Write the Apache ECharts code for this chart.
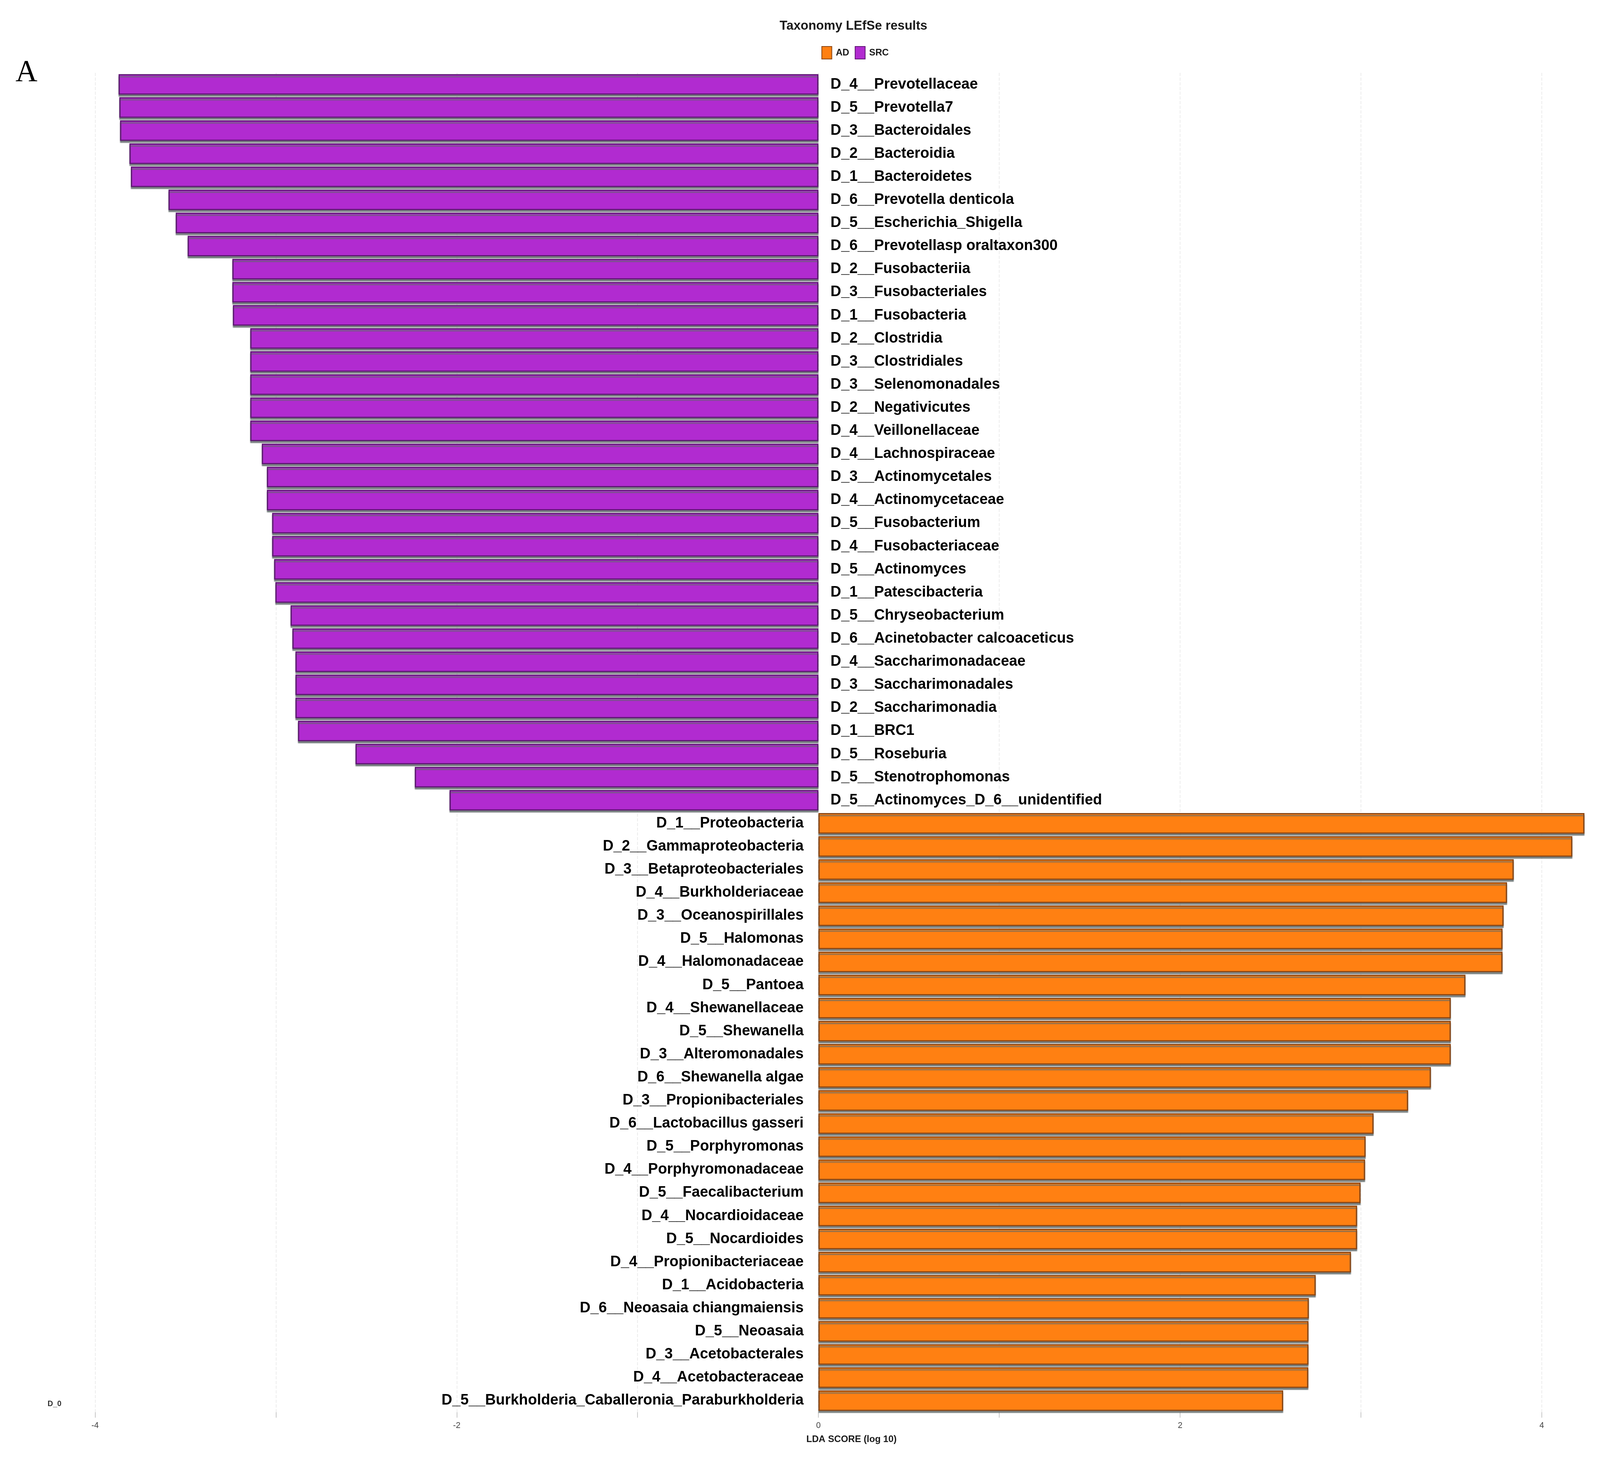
<!DOCTYPE html>
<html>
<head>
<meta charset="utf-8">
<script src="https://cdn.jsdelivr.net/npm/echarts@6/dist/echarts.min.js"></script>
<style>
html,body{margin:0;padding:0;background:#fff;overflow:hidden;}
#chart{position:absolute;left:0;top:0;}
</style>
</head>
<body>
<div id="chart"></div>
<script>
// SRC-enriched taxa (negative LDA scores, shown to the left)
const srcTaxa = [
  'D_4__Prevotellaceae','D_5__Prevotella7','D_3__Bacteroidales','D_2__Bacteroidia','D_1__Bacteroidetes',
  'D_6__Prevotella denticola','D_5__Escherichia_Shigella','D_6__Prevotellasp oraltaxon300','D_2__Fusobacteriia',
  'D_3__Fusobacteriales','D_1__Fusobacteria','D_2__Clostridia','D_3__Clostridiales','D_3__Selenomonadales',
  'D_2__Negativicutes','D_4__Veillonellaceae','D_4__Lachnospiraceae','D_3__Actinomycetales','D_4__Actinomycetaceae',
  'D_5__Fusobacterium','D_4__Fusobacteriaceae','D_5__Actinomyces','D_1__Patescibacteria','D_5__Chryseobacterium',
  'D_6__Acinetobacter calcoaceticus','D_4__Saccharimonadaceae','D_3__Saccharimonadales','D_2__Saccharimonadia',
  'D_1__BRC1','D_5__Roseburia','D_5__Stenotrophomonas','D_5__Actinomyces_D_6__unidentified'
];
const srcScores = [
  -3.870,-3.866,-3.862,-3.810,-3.802,-3.594,-3.554,-3.488,-3.241,-3.241,-3.238,
  -3.142,-3.142,-3.142,-3.142,-3.142,-3.078,-3.050,-3.050,-3.021,-3.021,-3.010,-3.003,
  -2.919,-2.909,-2.892,-2.892,-2.892,-2.878,-2.560,-2.232,-2.040
];
// AD-enriched taxa (positive LDA scores, shown to the right)
const adTaxa = [
  'D_1__Proteobacteria','D_2__Gammaproteobacteria','D_3__Betaproteobacteriales','D_4__Burkholderiaceae',
  'D_3__Oceanospirillales','D_5__Halomonas','D_4__Halomonadaceae','D_5__Pantoea','D_4__Shewanellaceae',
  'D_5__Shewanella','D_3__Alteromonadales','D_6__Shewanella algae','D_3__Propionibacteriales',
  'D_6__Lactobacillus gasseri','D_5__Porphyromonas','D_4__Porphyromonadaceae','D_5__Faecalibacterium',
  'D_4__Nocardioidaceae','D_5__Nocardioides','D_4__Propionibacteriaceae','D_1__Acidobacteria',
  'D_6__Neoasaia chiangmaiensis','D_5__Neoasaia','D_3__Acetobacterales','D_4__Acetobacteraceae',
  'D_5__Burkholderia_Caballeronia_Paraburkholderia'
];
const adScores = [
  4.236,4.169,3.845,3.808,3.789,3.783,3.783,3.578,3.497,3.497,3.497,3.387,3.261,
  3.070,3.026,3.023,2.998,2.979,2.979,2.945,2.750,2.712,2.710,2.710,2.709,2.570
];
const xTickValues = [-4,-2,0,2,4];

const categories = srcTaxa.concat(adTaxa);
const srcData = srcScores.concat(adTaxa.map(() => '-'));
const adData = srcTaxa.map(() => '-').concat(adScores);

// fit the 4645x3742 design into whatever viewport we actually get
const W = window.innerWidth || 4645, H = window.innerHeight || 3742;
const sx = W / 4645, sy = H / 3742, sf = Math.min(sx, sy);
const X = v => v * sx, Y = v => v * sy, F = v => v * sf;

const el = document.getElementById('chart');
el.style.width = W + 'px';
el.style.height = H + 'px';

const FONT = '"Liberation Sans", Arial, Helvetica, sans-serif';
const chart = echarts.init(el, null, {renderer: 'canvas', width: W, height: H});

chart.setOption({
  backgroundColor: '#ffffff',
  animation: false,
  title: {
    text: 'Taxonomy LEfSe results',
    left: X(2472), top: Y(45), textAlign: 'center',
    textStyle: {fontFamily: FONT, fontWeight: 'bold', fontSize: F(37), color: '#1a1a1a'}
  },
  legend: {
    data: ['AD', 'SRC'],
    left: X(2379), top: Y(113),
    itemWidth: X(29), itemHeight: Y(32), itemGap: X(16),
    icon: 'rect',
    textStyle: {fontFamily: FONT, fontWeight: 'bold', fontSize: F(27), color: '#1a1a1a', padding: [0, 0, 0, X(6)]}
  },
  grid: {left: X(276), right: X(11.5), top: Y(186.5), bottom: Y(127.5), containLabel: false},
  xAxis: {
    type: 'value', min: -4, max: 4.3, interval: 1,
    axisLine: {show: false},
    axisTick: {show: true, length: Y(14), lineStyle: {color: '#c8c8c8', width: 2}},
    splitLine: {show: true, showMaxLine: false, lineStyle: {color: '#ececec', type: 'dashed', width: 2}},
    axisLabel: {
      margin: Y(24), fontFamily: FONT, fontSize: F(24), color: '#444',
      showMaxLabel: false,
      formatter: v => (xTickValues.indexOf(v) >= 0 ? String(v) : '')
    }
  },
  yAxis: {
    type: 'category', data: categories, inverse: true,
    axisLine: {show: false}, axisTick: {show: false}, axisLabel: {show: false}, splitLine: {show: false}
  },
  graphic: [
    {type: 'text', x: X(45), y: Y(187), style: {text: 'A', fontFamily: '"Liberation Serif", "Times New Roman", serif', fontSize: F(88), fill: '#000', verticalAlign: 'middle', textVerticalAlign: 'middle'}},
    {type: 'text', x: X(138), y: Y(3594), style: {text: 'D_0', fontFamily: FONT, fontWeight: 'bold', fontSize: F(22), fill: '#333', verticalAlign: 'middle', textVerticalAlign: 'middle'}},
    {type: 'text', x: X(2472), y: Y(3684), style: {text: 'LDA SCORE (log 10)', fontFamily: FONT, fontWeight: 'bold', fontSize: F(27), fill: '#1a1a1a', align: 'center', textAlign: 'center', verticalAlign: 'middle', textVerticalAlign: 'middle'}}
  ],
  series: [
    {
      name: 'SRC', type: 'bar', data: srcData,
      barGap: '-100%', barCategoryGap: '11%',
      itemStyle: {color: '#B12BD0', borderColor: '#5e1673', borderWidth: 3,
        shadowColor: 'rgba(95,105,105,0.8)', shadowOffsetY: 5, shadowOffsetX: 0, shadowBlur: 2},
      label: {show: true, position: 'right', distance: X(35), formatter: '{b}',
        fontFamily: FONT, fontWeight: 'bold', fontSize: F(43), color: '#000'}
    },
    {
      name: 'AD', type: 'bar', data: adData,
      barGap: '-100%', barCategoryGap: '11%',
      itemStyle: {color: '#FF8012', borderColor: '#8a4512', borderWidth: 3,
        shadowColor: 'rgba(95,105,105,0.8)', shadowOffsetY: 5, shadowOffsetX: 0, shadowBlur: 2},
      label: {show: true, position: 'left', distance: X(43), formatter: '{b}',
        fontFamily: FONT, fontWeight: 'bold', fontSize: F(43), color: '#000'}
    }
  ]
});
</script>
</body>
</html>
